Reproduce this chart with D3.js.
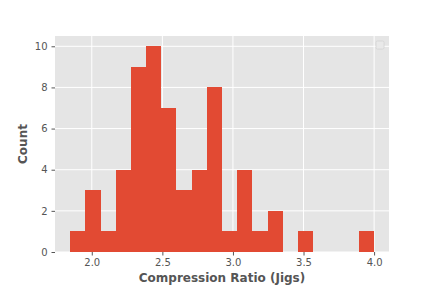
<!DOCTYPE html>
<html>
<head>
<meta charset="utf-8">
<script src="https://cdn.jsdelivr.net/npm/d3@7"></script>
<style>
  html, body { margin: 0; padding: 0; background: #fff; }
  svg { display: block; font-family: "DejaVu Sans", sans-serif; }
</style>
</head>
<body>
<div id="chart"></div>
<script>
// histogram counts, 20 equal bins between the data min and max
var binMin = 1.847;
var binMax = 3.998;
var counts = [1, 3, 1, 4, 9, 10, 7, 3, 4, 8, 1, 4, 1, 2, 0, 1, 0, 0, 0, 1];
var xTicks = [2.0, 2.5, 3.0, 3.5, 4.0];
var yTicks = [0, 2, 4, 6, 8, 10];

var width = 432, height = 288;
var margin = { left: 55, right: 43, top: 36, bottom: 36 };
var fontStack = '"DejaVu Sans", sans-serif';

var svg = d3.select('#chart').append('svg')
  .attr('width', width)
  .attr('height', height);

var binWidth = (binMax - binMin) / counts.length;
var bins = counts.map(function(c, i) {
  return { x0: binMin + i * binWidth, x1: binMin + (i + 1) * binWidth, count: c };
});

// matplotlib style 5% padding on x, y from 0 to max*1.05
var pad = (binMax - binMin) * 0.05;
var x = d3.scaleLinear()
  .domain([binMin - pad, binMax + pad])
  .range([margin.left, width - margin.right]);
var y = d3.scaleLinear()
  .domain([0, d3.max(counts) * 1.05])
  .range([height - margin.bottom, margin.top]);

svg.append('rect')
  .attr('x', margin.left)
  .attr('y', margin.top)
  .attr('width', width - margin.left - margin.right)
  .attr('height', height - margin.top - margin.bottom)
  .attr('fill', '#E5E5E5');

var grid = svg.append('g').attr('stroke', '#fff').attr('stroke-width', 1);
grid.selectAll('line.gx').data(xTicks).enter().append('line')
  .attr('x1', function(d) { return x(d); })
  .attr('x2', function(d) { return x(d); })
  .attr('y1', margin.top)
  .attr('y2', height - margin.bottom);
grid.selectAll('line.gy').data(yTicks).enter().append('line')
  .attr('y1', function(d) { return y(d); })
  .attr('y2', function(d) { return y(d); })
  .attr('x1', margin.left)
  .attr('x2', width - margin.right);

svg.append('g').selectAll('rect').data(bins).enter().append('rect')
  .attr('x', function(d) { return x(d.x0); })
  .attr('width', function(d) { return x(d.x1) - x(d.x0); })
  .attr('y', function(d) { return y(d.count); })
  .attr('height', function(d) { return y(0) - y(d.count); })
  .attr('fill', '#E24A33')
  .attr('shape-rendering', 'crispEdges');

var xAxis = svg.append('g')
  .attr('transform', 'translate(0,' + (height - margin.bottom) + ')')
  .call(d3.axisBottom(x).tickValues(xTicks).tickFormat(d3.format('.1f'))
    .tickSize(3.5).tickPadding(3.5));
var yAxis = svg.append('g')
  .attr('transform', 'translate(' + margin.left + ',0)')
  .call(d3.axisLeft(y).tickValues(yTicks).tickFormat(d3.format('d'))
    .tickSize(3.5).tickPadding(4));

[xAxis, yAxis].forEach(function(ax) {
  ax.select('.domain').remove();
  ax.selectAll('.tick line').attr('stroke', '#555');
  ax.selectAll('.tick text')
    .attr('fill', '#555')
    .style('font-size', '10px')
    .style('font-family', fontStack);
});

svg.append('text')
  .attr('x', x.range()[0] + (x.range()[1] - x.range()[0]) / 2)
  .attr('y', 282)
  .attr('text-anchor', 'middle')
  .attr('fill', '#555')
  .style('font-size', '12px')
  .style('font-weight', 'bold')
  .text('Compression Ratio (Jigs)');

svg.append('text')
  .attr('transform', 'translate(27,' + (margin.top + (height - margin.bottom - margin.top) / 2) + ') rotate(-90)')
  .attr('text-anchor', 'middle')
  .attr('fill', '#555')
  .style('font-size', '12px')
  .style('font-weight', 'bold')
  .text('Count');

// empty legend frame in the upper right
svg.append('rect')
  .attr('x', width - margin.right - 13)
  .attr('y', margin.top + 5)
  .attr('width', 8)
  .attr('height', 8)
  .attr('rx', 1.5)
  .attr('fill', '#E9E9E9')
  .attr('stroke', '#D3D3D3')
  .attr('stroke-width', 0.8);
</script>
</body>
</html>
